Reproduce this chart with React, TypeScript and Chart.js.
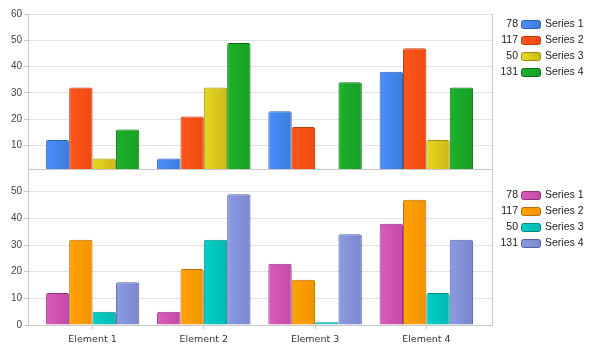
import React, { useEffect, useRef } from "react";
import { Chart, registerables } from "chart.js";

Chart.register(...registerables);

// ---- data ----
const categories = ["Element 1", "Element 2", "Element 3", "Element 4"];
const categoryPositions = [1, 2, 3, 4];
const seriesNames = ["Series 1", "Series 2", "Series 3", "Series 4"];
const series1 = [12, 5, 23, 38];
const series2 = [32, 21, 17, 47];
const series3 = [5, 32, 1, 12];
const series4 = [16, 49, 34, 32];
const topTicks = [10, 20, 30, 40, 50, 60];
const bottomTicks = [0, 10, 20, 30, 40, 50];

const seriesValues = [series1, series2, series3, series4];

type Pal = { light: string; dark: string; border: string };

const topPalette: Pal[] = [
  { light: "#4b8ffd", dark: "#3c7cdc", border: "#2c5fb3" },
  { light: "#ff561b", dark: "#ef4a12", border: "#c0390a" },
  { light: "#e6d820", dark: "#cdb919", border: "#9d8c0d" },
  { light: "#1db22b", dark: "#179f23", border: "#0d6b17" },
];
const bottomPalette: Pal[] = [
  { light: "#db5cbd", dark: "#c449a8", border: "#8f2f7e" },
  { light: "#ffa200", dark: "#f29300", border: "#b96e00" },
  { light: "#00d0c7", dark: "#00b9b1", border: "#008a84" },
  { light: "#8b9ce3", dark: "#7987cc", border: "#5562a0" },
];

const CAT_PCT = 0.84;
const X_MIN = 0.42;
const X_MAX = 4.59;
const AXIS_COLOR = "#c8c8c8";
const GRID_COLOR = "#e3e3e3";
const TICK_FONT = { family: "'Liberation Sans', Arial, sans-serif", size: 10 };
const CAT_FONT = { family: "'DejaVu Sans', sans-serif", size: 9.5 };

function gradientFor(c: any, pal: Pal) {
  const chart = c.chart;
  const xs = chart.scales && chart.scales.x;
  if (!xs || !chart.chartArea || c.dataIndex === undefined) return pal.light;
  const center = xs.getPixelForValue(categoryPositions[c.dataIndex]);
  const catW = xs.getPixelForValue(2) - xs.getPixelForValue(1);
  const size = catW * CAT_PCT;
  const chunk = size / 4;
  const left = center - size / 2 + chunk * c.datasetIndex;
  if (!isFinite(left) || !isFinite(chunk)) return pal.light;
  const g = chart.ctx.createLinearGradient(left, 0, left + chunk, 0);
  g.addColorStop(0, pal.light);
  g.addColorStop(1, pal.dark);
  return g;
}

function makeDatasets(palette: Pal[]) {
  return seriesValues.map((vals, i) => ({
    label: seriesNames[i],
    data: vals.map((v, j) => ({ x: categoryPositions[j], y: v })),
    backgroundColor: (c: any) => gradientFor(c, palette[i]),
    borderColor: palette[i].border,
    borderWidth: 1,
    borderRadius: 2,
    categoryPercentage: CAT_PCT,
    barPercentage: 1,
  }));
}

function makeLegendPlugin(palette: Pal[], top: number) {
  return {
    id: "sideLegend",
    afterDraw(chart: any) {
      const ctx = chart.ctx as CanvasRenderingContext2D;
      ctx.save();
      ctx.font = "10.5px 'Liberation Sans', Arial, sans-serif";
      ctx.textBaseline = "middle";
      seriesNames.forEach((name, i) => {
        const y = top + i * 16;
        const total = seriesValues[i].reduce((a, b) => a + b, 0);
        ctx.fillStyle = "#222";
        ctx.textAlign = "right";
        ctx.fillText(String(total), 518, y);
        const bx = 521.5;
        const by = Math.round(y) - 3.5;
        const bw = 19;
        const bh = 8;
        const g = ctx.createLinearGradient(bx, 0, bx + bw, 0);
        g.addColorStop(0, palette[i].light);
        g.addColorStop(1, palette[i].dark);
        ctx.beginPath();
        if ((ctx as any).roundRect) (ctx as any).roundRect(bx, by, bw, bh, 2);
        else ctx.rect(bx, by, bw, bh);
        ctx.fillStyle = g;
        ctx.fill();
        ctx.strokeStyle = palette[i].border;
        ctx.lineWidth = 1;
        ctx.stroke();
        ctx.fillStyle = "#222";
        ctx.textAlign = "left";
        ctx.fillText(name, 545, y);
      });
      ctx.restore();
    },
  };
}

const framePlugin = {
  id: "rightFrame",
  afterDraw(chart: any) {
    const { ctx, chartArea } = chart;
    if (!chartArea) return;
    const x = Math.round(chartArea.right) + 0.5;
    ctx.save();
    ctx.strokeStyle = AXIS_COLOR;
    ctx.lineWidth = 1;
    ctx.beginPath();
    ctx.moveTo(x, Math.round(chartArea.top));
    ctx.lineTo(x, Math.round(chartArea.bottom) + 1);
    ctx.stroke();
    ctx.restore();
  },
};

function makeConfig(isTop: boolean): any {
  const palette = isTop ? topPalette : bottomPalette;
  const yTicks = isTop ? topTicks : bottomTicks;
  return {
    type: "bar",
    data: { datasets: makeDatasets(palette) },
    plugins: [framePlugin, makeLegendPlugin(palette, isTop ? 24 : 36)],
    options: {
      animation: false,
      responsive: false,
      events: [],
      layout: {
        padding: isTop
          ? { top: 14, bottom: 10, left: 0, right: 101 }
          : { top: 10, bottom: 0, left: 0, right: 101 },
      },
      plugins: { legend: { display: false }, tooltip: { enabled: false } },
      scales: {
        x: {
          type: "linear",
          min: X_MIN,
          max: X_MAX,
          bounds: "data",
          offset: false,
          afterBuildTicks: (s: any) => {
            s.ticks = categoryPositions.map((v) => ({ value: v }));
          },
          afterFit: (s: any) => {
            s.height = isTop ? 0 : 26;
          },
          grid: isTop
            ? { display: false }
            : {
                display: true,
                drawOnChartArea: false,
                drawTicks: true,
                tickLength: 4,
                offset: false,
                color: AXIS_COLOR,
              },
          border: { display: true, color: AXIS_COLOR },
          ticks: {
            display: !isTop,
            padding: 5,
            color: "#333",
            font: CAT_FONT,
            autoSkip: false,
            maxRotation: 0,
            callback: (_v: any, idx: number) => categories[idx],
          },
        },
        y: {
          type: "linear",
          min: isTop ? 1 : 0,
          max: isTop ? 60 : 58.5,
          bounds: "data",
          beginAtZero: false,
          afterBuildTicks: (s: any) => {
            s.ticks = yTicks.map((v) => ({ value: v }));
          },
          afterFit: (s: any) => {
            s.width = 28;
          },
          grid: { color: GRID_COLOR, tickLength: 4, tickColor: AXIS_COLOR },
          border: { color: AXIS_COLOR },
          ticks: { padding: 2, color: "#444", font: TICK_FONT },
        },
      },
    },
  };
}

export default function App() {
  const topRef = useRef<HTMLCanvasElement | null>(null);
  const botRef = useRef<HTMLCanvasElement | null>(null);

  useEffect(() => {
    const charts: Chart[] = [];
    if (topRef.current) charts.push(new Chart(topRef.current, makeConfig(true)));
    if (botRef.current) charts.push(new Chart(botRef.current, makeConfig(false)));
    return () => charts.forEach((c) => c.destroy());
  }, []);

  return (
    <div style={{ position: "absolute", left: 0, top: 0, width: 593, height: 351, background: "#fff" }}>
      <canvas
        ref={topRef}
        width={593}
        height={179}
        style={{ position: "absolute", left: 0, top: 0, width: 593, height: 179, display: "block" }}
      />
      <canvas
        ref={botRef}
        width={593}
        height={192}
        style={{ position: "absolute", left: 0, top: 159, width: 593, height: 192, display: "block" }}
      />
    </div>
  );
}
